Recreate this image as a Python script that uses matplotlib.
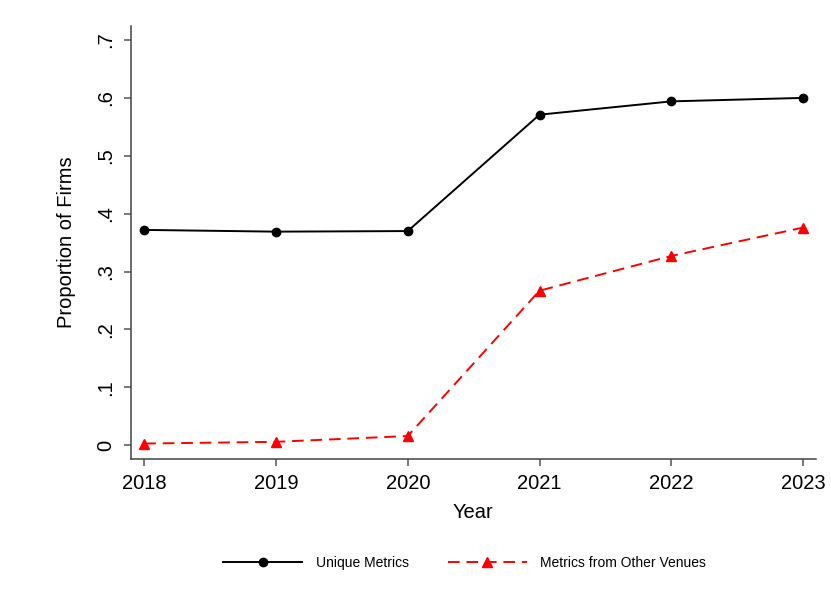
import numpy as np
import matplotlib
matplotlib.use("Agg")
import matplotlib.pyplot as plt

plt.rcParams['font.family'] = ['Liberation Sans', 'DejaVu Sans']

# Share of firms by year
years = [2018, 2019, 2020, 2021, 2022, 2023]
unique_metrics = [0.372, 0.369, 0.370, 0.571, 0.594, 0.600]
other_venues = [0.003, 0.006, 0.016, 0.267, 0.327, 0.376]

yticks = [0, 0.1, 0.2, 0.3, 0.4, 0.5, 0.6, 0.7]
ytick_labels = ['0', '.1', '.2', '.3', '.4', '.5', '.6', '.7']

fig = plt.figure(figsize=(8.31, 6.07), dpi=100)
ax = fig.add_axes([0.1573, 0.2438, 0.8247, 0.7132])

ax.plot(years, unique_metrics, color='black', lw=1.4, marker='o',
        markersize=6, label='Unique Metrics')
ax.plot(years, other_venues, color='red', lw=1.4, marker='^',
        markersize=7, dashes=(6, 3.5), label='Metrics from Other Venues')

ax.set_xlim(2017.897, 2023.099)
ax.set_ylim(-0.0237, 0.724)
ax.set_xticks(years)
ax.set_yticks(yticks)
ax.set_yticklabels(ytick_labels, rotation=90, va='center')

for side in ['top', 'right']:
    ax.spines[side].set_visible(False)
for side in ['left', 'bottom']:
    ax.spines[side].set_color('#444444')
    ax.spines[side].set_linewidth(1.1)
ax.tick_params(axis='both', length=5, width=1.1, color='#555555',
               labelsize=14.5, pad=6)

ax.set_xlabel('Year', fontsize=14.5, labelpad=7)
ax.set_ylabel('Proportion of Firms', fontsize=14.5, labelpad=15)

fig.legend(loc='center', bbox_to_anchor=(0.559, 0.0725), ncol=2,
           frameon=False, fontsize=10, handlelength=5.7,
           handletextpad=0.95, columnspacing=2.8)

fig.savefig('out.png', dpi=100)
